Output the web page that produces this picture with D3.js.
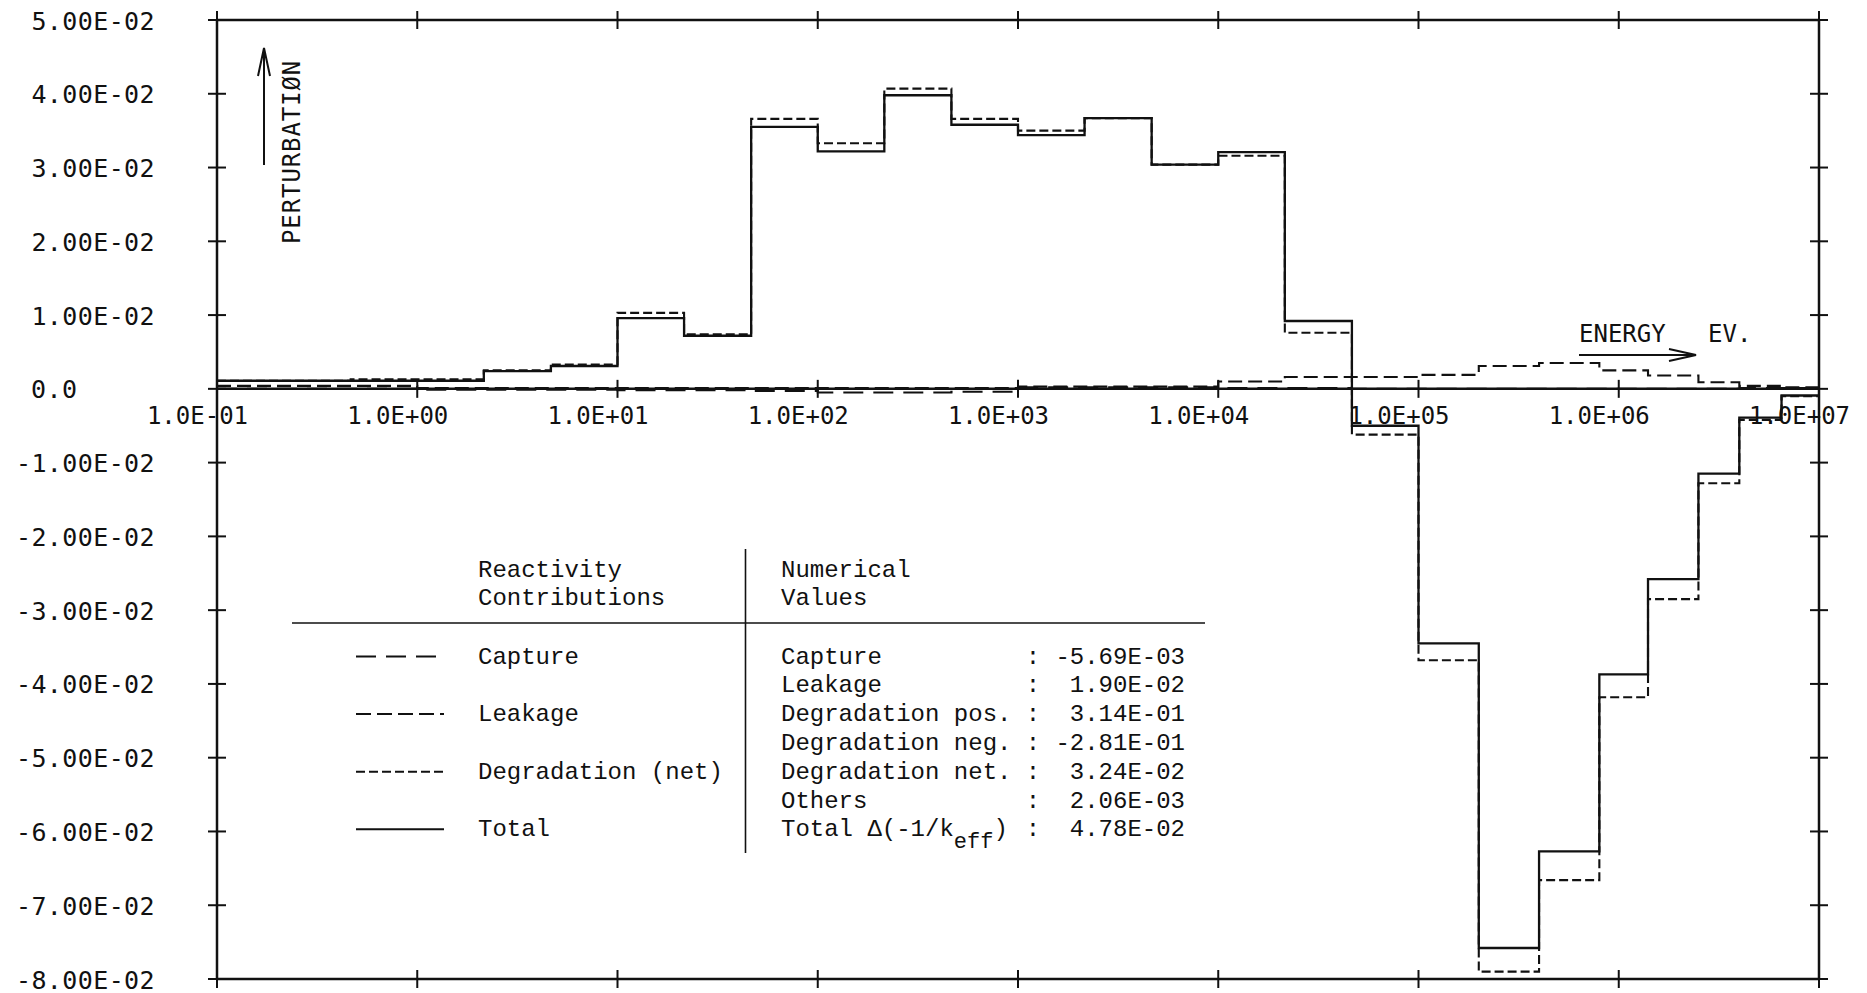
<!DOCTYPE html>
<html>
<head>
<meta charset="utf-8">
<script src="https://cdn.jsdelivr.net/npm/d3@7"></script>
<style>
  html, body { margin: 0; padding: 0; background: #fff; }
  svg { display: block; }
</style>
</head>
<body>
<svg id="chart" width="1867" height="993"></svg>
<script>
// 26-group energy structure (eV), lower edge of each group plus the final upper edge
const groupEdges = [0.1, 0.215, 0.465, 1.0, 2.15, 4.65, 10, 21.5, 46.5, 100, 215, 465, 1000,
  2150, 4650, 1e4, 2.15e4, 4.65e4, 1e5, 2e5, 4e5, 8e5, 1.4e6, 2.5e6, 4e6, 6.5e6, 1e7];

// Group-wise reactivity contributions, one value per group
const totalValues = [0.0011, 0.0011, 0.0011, 0.0011, 0.0024, 0.0031, 0.0096, 0.0072, 0.0355,
  0.0322, 0.0398, 0.0358, 0.0344, 0.0367, 0.0304, 0.0321, 0.0092, -0.0050, -0.0345, -0.0758,
  -0.0627, -0.0387, -0.0258, -0.0115, -0.0039, -0.0009];
const degradationValues = [0.0011, 0.0011, 0.0013, 0.0013, 0.0025, 0.0033, 0.0103, 0.0074, 0.0366,
  0.0333, 0.0407, 0.0366, 0.0350, 0.0367, 0.0304, 0.0316, 0.0076, -0.0062, -0.0368, -0.0790,
  -0.0666, -0.0418, -0.0285, -0.0128, -0.0042, -0.0010];
const leakageValues = [0.0004, 0.0004, 0.0004, 0.0001, 0.0001, 0.0001, 0.0001, 0.0001, 0.0001,
  0.0001, 0.0001, 0.0001, 0.0003, 0.0003, 0.0003, 0.0010, 0.0016, 0.0016, 0.0019, 0.0031,
  0.0035, 0.0025, 0.0018, 0.0009, 0.0004, 0.0002];
const captureValues = [0.0, 0.0, 0.0, -0.0001, -0.0001, -0.0001, -0.0002, -0.0002, -0.0003,
  -0.0005, -0.0005, -0.0004, 0.0002, 0.0002, 0.0002, 0.0001, 0.0001, 0.0, 0.0, 0.0,
  0.0, 0.0, 0.0, 0.0, 0.0001, 0.0001];

// Axis ticks and their printed labels
const xTicks = [0.1, 1, 10, 100, 1000, 1e4, 1e5, 1e6, 1e7];
const xTickLabels = ["1.0E-01", "1.0E+00", "1.0E+01", "1.0E+02", "1.0E+03", "1.0E+04",
  "1.0E+05", "1.0E+06", "1.0E+07"];
const yTicks = [0.05, 0.04, 0.03, 0.02, 0.01, 0.0, -0.01, -0.02, -0.03, -0.04, -0.05,
  -0.06, -0.07, -0.08];
const yTickLabels = ["5.00E-02", "4.00E-02", "3.00E-02", "2.00E-02", "1.00E-02", "0.0",
  "-1.00E-02", "-2.00E-02", "-3.00E-02", "-4.00E-02", "-5.00E-02", "-6.00E-02",
  "-7.00E-02", "-8.00E-02"];

// Summary table
const legendNames = ["Capture", "Leakage", "Degradation (net)", "Total"];
const legendRows = [0, 2, 4, 6];
const tableNames = ["Capture", "Leakage", "Degradation pos.", "Degradation neg.",
  "Degradation net.", "Others", "Total \u0394(-1/k"];
const tableValues = ["-5.69E-03", "1.90E-02", "3.14E-01", "-2.81E-01", "3.24E-02",
  "2.06E-03", "4.78E-02"];

const svg = d3.select("#chart");
const ink = "#111";
const plotFont = "'DejaVu Sans Mono', monospace";
const tableFont = "'Liberation Mono', 'DejaVu Sans Mono', monospace";

const x = d3.scaleLog().domain([0.1, 1e7]).range([217, 1819]);
const y = d3.scaleLinear().domain([-0.08, 0.05]).range([979, 20]);

// ---- frame and zero line ----
const frame = svg.append("g").attr("stroke", ink).attr("stroke-width", 2.5).attr("fill", "none");
[0.05, 0.0, -0.08].forEach(v => {
  frame.append("line").attr("x1", x(0.1)).attr("x2", x(1e7)).attr("y1", y(v)).attr("y2", y(v));
});
[0.1, 1e7].forEach(e => {
  frame.append("line").attr("x1", x(e)).attr("x2", x(e)).attr("y1", y(0.05)).attr("y2", y(-0.08));
});

// crossing ticks on the horizontal lines (decades) and vertical edges (0.01 steps)
const tk = 9;
[0.05, 0.0, -0.08].forEach(v => {
  xTicks.forEach(e => {
    frame.append("line").attr("x1", x(e)).attr("x2", x(e))
      .attr("y1", y(v) - tk).attr("y2", y(v) + tk).attr("stroke-width", 2);
  });
});
[0.1, 1e7].forEach(e => {
  yTicks.forEach(v => {
    frame.append("line").attr("x1", x(e) - tk).attr("x2", x(e) + tk)
      .attr("y1", y(v)).attr("y2", y(v)).attr("stroke-width", 2);
  });
});

// ---- axis labels through d3 axes ----
const yAxis = d3.axisLeft(y).tickValues(yTicks)
  .tickFormat((d, i) => yTickLabels[i]).tickSize(0).tickPadding(0);
const gy = svg.append("g").attr("transform", "translate(155,0)").call(yAxis);
gy.select(".domain").remove();
gy.selectAll("text")
  .attr("font-family", plotFont).attr("font-size", 25).attr("fill", ink)
  .attr("letter-spacing", 0.4).attr("dy", "0.36em")
  .each(function (d, i) {
    if (yTickLabels[i] === "0.0") {
      d3.select(this).attr("text-anchor", "start").attr("x", 31 - 155);
    }
  });

const xAxis = d3.axisBottom(x).tickValues(xTicks)
  .tickFormat((d, i) => xTickLabels[i]).tickSize(0).tickPadding(0);
const gx = svg.append("g").attr("transform", `translate(0,${y(0)})`).call(xAxis);
gx.select(".domain").remove();
gx.selectAll("text")
  .attr("font-family", plotFont).attr("font-size", 24).attr("fill", ink)
  .attr("y", 35).attr("dy", 0).attr("dx", -20);

// ---- histogram step lines ----
const stepLine = d3.line().x(d => x(d[0])).y(d => y(d[1])).curve(d3.curveStepAfter);
function stepPoints(values) {
  const pts = values.map((v, i) => [groupEdges[i], v]);
  pts.push([groupEdges[groupEdges.length - 1], values[values.length - 1]]);
  return pts;
}
const series = [
  { values: totalValues, dash: null, width: 2.3 },
  { values: degradationValues, dash: "9,4", width: 2.1 },
  { values: leakageValues, dash: "14,6", width: 2.1 },
  { values: captureValues, dash: "20,10", width: 2.1 }
];
const legendDash = { "Capture": "20,10", "Leakage": "15,6", "Degradation (net)": "9,4", "Total": null };
svg.append("g").selectAll("path").data(series).join("path")
  .attr("d", s => stepLine(stepPoints(s.values)))
  .attr("fill", "none").attr("stroke", ink)
  .attr("stroke-width", s => s.width)
  .attr("stroke-dasharray", s => s.dash);

// ---- annotations ----
const ann = svg.append("g").attr("stroke", ink).attr("stroke-width", 2).attr("fill", "none");
ann.append("path").attr("d", "M264,165 L264,48 M258,76 L264,48 L270,76");
ann.append("path").attr("d", "M1579,355 L1696,355 M1669,349 L1696,355 L1669,361");
svg.append("text").attr("transform", "translate(300,244) rotate(-90)")
  .attr("font-family", plotFont).attr("font-size", 24).attr("fill", ink)
  .attr("letter-spacing", 0.9).text("PERTURBATI\u00D8N");
svg.append("text").attr("x", 1579).attr("y", 342)
  .attr("font-family", plotFont).attr("font-size", 24).attr("fill", ink).text("ENERGY");
svg.append("text").attr("x", 1708).attr("y", 342)
  .attr("font-family", plotFont).attr("font-size", 24).attr("fill", ink).text("EV.");

// ---- summary table ----
const tbl = svg.append("g").attr("font-family", tableFont).attr("font-size", 24).attr("fill", ink);
const rowBase = 663.5, rowStep = 28.8;
tbl.append("line").attr("x1", 292).attr("x2", 1205).attr("y1", 623).attr("y2", 623)
  .attr("stroke", ink).attr("stroke-width", 1.6);
tbl.append("line").attr("x1", 745.5).attr("x2", 745.5).attr("y1", 549).attr("y2", 853)
  .attr("stroke", ink).attr("stroke-width", 1.6);
tbl.append("text").attr("x", 478).attr("y", 576.5).text("Reactivity");
tbl.append("text").attr("x", 478).attr("y", 605).text("Contributions");
tbl.append("text").attr("x", 781).attr("y", 576.5).text("Numerical");
tbl.append("text").attr("x", 781).attr("y", 605).text("Values");

legendNames.forEach((name, i) => {
  const by = rowBase + legendRows[i] * rowStep;
  tbl.append("line").attr("x1", 356).attr("x2", 444).attr("y1", by - 7).attr("y2", by - 7)
    .attr("stroke", ink).attr("stroke-width", 2)
    .attr("stroke-dasharray", legendDash[name]);
  tbl.append("text").attr("x", 478).attr("y", by).text(name);
});

tableNames.forEach((name, i) => {
  const by = rowBase + i * rowStep;
  const t = tbl.append("text").attr("x", 781).attr("y", by);
  if (i === tableNames.length - 1) {
    t.append("tspan").text(name);
    t.append("tspan").attr("dy", 12).attr("font-size", 22).text("eff");
    t.append("tspan").attr("dy", -12).text(")");
  } else {
    t.text(name);
  }
  tbl.append("text").attr("x", 1033).attr("y", by).attr("text-anchor", "middle").text(":");
  tbl.append("text").attr("x", 1185).attr("y", by).attr("text-anchor", "end").text(tableValues[i]);
});
</script>
</body>
</html>
